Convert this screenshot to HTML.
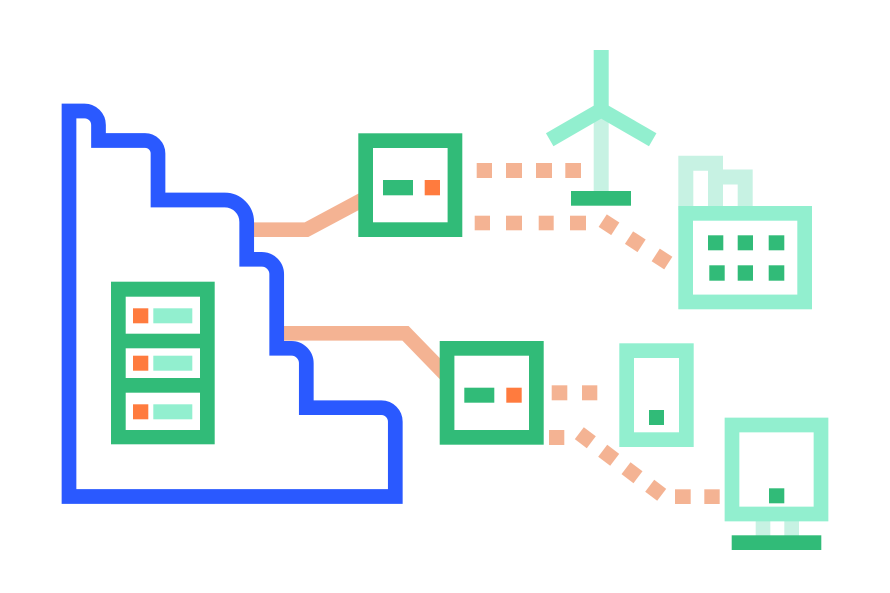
<!DOCTYPE html>
<html>
<head>
<meta charset="utf-8">
<style>
html,body{margin:0;padding:0;background:#fff;width:890px;height:593px;overflow:hidden}
svg{display:block}
</style>
</head>
<body>
<svg width="890" height="593" viewBox="0 0 890 593" xmlns="http://www.w3.org/2000/svg">
<rect width="890" height="593" fill="#fff"/>

<!-- connectors -->
<g fill="none" stroke="#f4b393" stroke-width="14.7" stroke-linejoin="miter">
<path d="M250 229.7H306.5L362 200"/>
<path d="M280 333.3H405.5L445 374"/>
</g>

<!-- cliff -->
<path fill="none" stroke="#2a59ff" stroke-width="14.7" stroke-linejoin="miter" d="M69 496.5V111H84.5A14 14 0 0 1 98.5 125V140.5H145A13 13 0 0 1 158 153.5V200H224.7A22 22 0 0 1 246.7 222V259.3H261.7A15 15 0 0 1 276.7 274.3V348.3H291.3A15 15 0 0 1 306.3 363.3V407.7H381.3A14 14 0 0 1 395.3 421.7V496.5Z"/>

<!-- server -->
<rect x="111" y="281.7" width="103.7" height="162.6" fill="#31bb78"/>
<g fill="#fff">
<rect x="125.7" y="296.7" width="74.3" height="37"/>
<rect x="125.7" y="348.3" width="74.3" height="29.7"/>
<rect x="125.7" y="392.7" width="74.3" height="37.3"/>
</g>
<g fill="#ff7b3e">
<rect x="133" y="308.3" width="15.3" height="15"/>
<rect x="133" y="355.7" width="15.3" height="15"/>
<rect x="133" y="404.3" width="15.3" height="15"/>
</g>
<g fill="#92efcf">
<rect x="153.3" y="308.3" width="39" height="15"/>
<rect x="153.3" y="355.7" width="39" height="15"/>
<rect x="153.3" y="404.3" width="39" height="15"/>
</g>

<!-- box 1 -->
<rect x="365.65" y="140.65" width="89.3" height="89" fill="#fff" stroke="#31bb78" stroke-width="14.7"/>
<rect x="383" y="180" width="30" height="15.3" fill="#31bb78"/>
<rect x="424.7" y="180" width="15.3" height="15.3" fill="#ff7b3e"/>

<!-- box 2 -->
<rect x="447.05" y="348.35" width="89.3" height="89" fill="#fff" stroke="#31bb78" stroke-width="14.7"/>
<rect x="464.3" y="387.7" width="30" height="15" fill="#31bb78"/>
<rect x="506.3" y="387.7" width="15.4" height="15" fill="#ff7b3e"/>

<!-- dashes -->
<g fill="#f4b393">
<rect x="476.7" y="163" width="15.3" height="15"/>
<rect x="506" y="163" width="16" height="15"/>
<rect x="536" y="163" width="16" height="15"/>
<rect x="565.3" y="163" width="15.7" height="15"/>

<rect x="474.7" y="215.7" width="15.3" height="14.6"/>
<rect x="506" y="215.7" width="16" height="14.6"/>
<rect x="538.7" y="215.7" width="15" height="14.6"/>
<rect x="570" y="215.7" width="16" height="14.6"/>
<rect x="-7.5" y="-7.5" width="15" height="15" transform="translate(609 224.7) rotate(33)"/>
<rect x="-7.5" y="-7.5" width="15" height="15" transform="translate(635.3 241.7) rotate(33)"/>
<rect x="-7.5" y="-7.5" width="15" height="15" transform="translate(662 259) rotate(33)"/>

<rect x="551.7" y="385.3" width="15.6" height="15"/>
<rect x="582" y="385.3" width="15.3" height="15"/>

<rect x="549" y="430" width="15.3" height="15"/>
<rect x="-7.5" y="-7.5" width="15" height="15" transform="translate(585.3 437.7) rotate(37)"/>
<rect x="-7.5" y="-7.5" width="15" height="15" transform="translate(608.7 455.3) rotate(37)"/>
<rect x="-7.5" y="-7.5" width="15" height="15" transform="translate(632 472.7) rotate(37)"/>
<rect x="-7.5" y="-7.5" width="15" height="15" transform="translate(655.7 490.3) rotate(37)"/>
<rect x="675" y="489.3" width="15.7" height="14.7"/>
<rect x="704.3" y="489.3" width="15.4" height="14.7"/>
</g>

<!-- wind turbine -->
<rect x="593.7" y="112" width="15" height="80" fill="#c7f2e3"/>
<g fill="none" stroke="#92efcf" stroke-width="15">
<path d="M601.2 50V110"/>
<path d="M549.7 139.7L601.2 110L652.7 139.7"/>
</g>
<rect x="571" y="191" width="60" height="14.7" fill="#31bb78"/>

<!-- factory -->
<path d="M685.8 210V163.2H715.5V210" fill="none" stroke="#c7f2e3" stroke-width="15"/>
<path d="M715.5 177H745.2V210" fill="none" stroke="#c7f2e3" stroke-width="15"/>
<rect x="685.65" y="213.35" width="119" height="88.6" fill="#fff" stroke="#92efcf" stroke-width="14.7"/>
<g fill="#31bb78">
<rect x="708" y="235.3" width="15.3" height="15"/>
<rect x="737.7" y="235.3" width="15.3" height="15"/>
<rect x="768.7" y="235.3" width="15.6" height="15"/>
<rect x="709.3" y="265.3" width="15.4" height="15.4"/>
<rect x="737.7" y="265.3" width="15.3" height="15.4"/>
<rect x="768.7" y="265.3" width="15.6" height="15.4"/>
</g>

<!-- device -->
<rect x="626.65" y="350.65" width="59.7" height="89" fill="#fff" stroke="#92efcf" stroke-width="14.7"/>
<rect x="649" y="410" width="15" height="15" fill="#31bb78"/>

<!-- monitor -->
<rect x="755.7" y="520" width="14.6" height="16" fill="#c7f2e3"/>
<rect x="784.3" y="520" width="14.7" height="16" fill="#c7f2e3"/>
<rect x="732" y="425" width="89" height="89" fill="#fff" stroke="#92efcf" stroke-width="14.7"/>
<rect x="769" y="488.3" width="15.3" height="15" fill="#31bb78"/>
<rect x="731.7" y="535.3" width="89.6" height="14.7" fill="#31bb78"/>
</svg>
</body>
</html>
